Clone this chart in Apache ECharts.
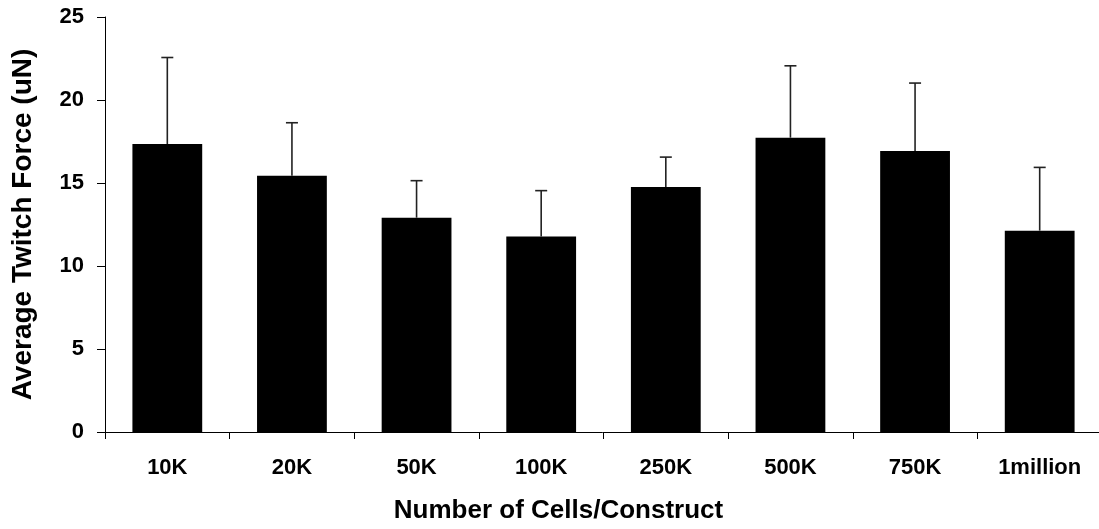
<!DOCTYPE html>
<html>
<head>
<meta charset="utf-8">
<script src="https://cdn.jsdelivr.net/npm/echarts@6/dist/echarts.min.js"></script>
<style>html,body{margin:0;padding:0;background:#fff}#c{width:1099px;height:529px}</style>
</head>
<body>
<div id="c"></div>
<script>
var categories = ['10K', '20K', '50K', '100K', '250K', '500K', '750K', '1million'];
var means = [17.35, 15.44, 12.91, 11.77, 14.76, 17.73, 16.93, 12.13];
var errors = [5.21, 3.19, 2.23, 2.77, 1.80, 4.33, 4.09, 3.81];
var yTicks = [0, 5, 10, 15, 20, 25];

var chart = echarts.init(document.getElementById('c'));
var font = '"Liberation Sans", Arial, sans-serif';
chart.setOption({
  animation: false,
  grid: { left: 105, right: -3, top: 17, bottom: 97, outerBoundsMode: 'none', containLabel: false },
  xAxis: {
    type: 'category',
    data: categories,
    name: 'Number of Cells/Construct',
    nameLocation: 'middle',
    nameGap: 66,
    nameTextStyle: { fontFamily: font, fontWeight: 'bold', fontSize: 26, color: '#000', padding: [0, 90, 0, 0] },
    axisLine: { lineStyle: { color: '#000', width: 1 } },
    axisTick: { show: true, length: 7, lineStyle: { color: '#000' } },
    axisLabel: { fontFamily: font, fontWeight: 'bold', fontSize: 22, color: '#000', margin: 25 }
  },
  yAxis: {
    type: 'value',
    min: yTicks[0], max: yTicks[yTicks.length - 1], interval: 5,
    name: 'Average Twitch Force (uN)',
    nameLocation: 'middle',
    nameGap: 68,
    nameTextStyle: { fontFamily: font, fontWeight: 'bold', fontSize: 28, color: '#000' },
    axisLine: { show: true, lineStyle: { color: '#000', width: 1 } },
    axisTick: { show: true, length: 8, lineStyle: { color: '#000' } },
    axisLabel: { fontFamily: font, fontWeight: 'bold', fontSize: 22, color: '#000', margin: 21 },
    splitLine: { show: false }
  },
  series: [
    {
      type: 'bar',
      data: means,
      barWidth: '56%',
      itemStyle: { color: '#000' },
      z: 2
    },
    {
      type: 'custom',
      z: 3,
      data: means.map(function (m, i) { return [i, m, m + errors[i]]; }),
      renderItem: function (params, api) {
        var x = api.value(0);
        var lo = api.coord([x, api.value(1)]);
        var hi = api.coord([x, api.value(2)]);
        var cap = 6;
        var style = { stroke: '#222', lineWidth: 1.6, fill: null };
        return {
          type: 'group',
          children: [
            { type: 'line', shape: { x1: lo[0], y1: lo[1], x2: hi[0], y2: hi[1] }, style: style },
            { type: 'line', shape: { x1: hi[0] - cap, y1: hi[1], x2: hi[0] + cap, y2: hi[1] }, style: style }
          ]
        };
      }
    }
  ]
});
</script>
</body>
</html>
